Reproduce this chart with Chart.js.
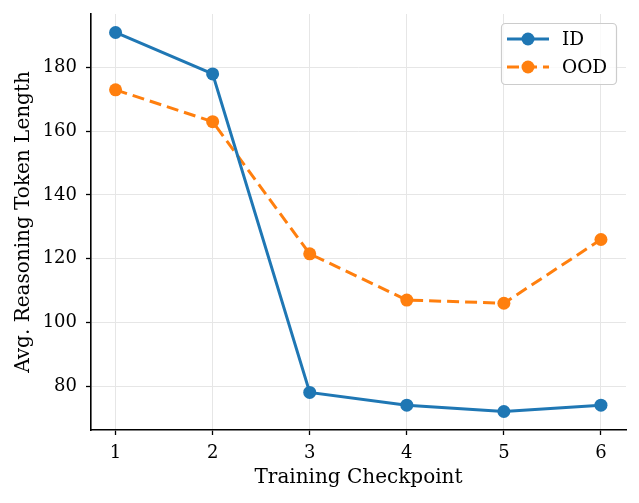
<!DOCTYPE html>
<html>
<head>
<meta charset="utf-8">
<script src="https://cdn.jsdelivr.net/npm/chart.js@4"></script>
<style>
  html, body { margin: 0; padding: 0; background: #fff; }
  #wrap { width: 639px; height: 503px; }
</style>
</head>
<body>
<div id="wrap"><canvas id="chart" width="639" height="503"></canvas></div>
<script>
(function () {
    const checkpoints = [1, 2, 3, 4, 5, 6];
    const idValues = [191, 178, 78, 74, 72, 74];
    const oodValues = [173, 163, 121.5, 107, 106, 126];
    const yTicks = [80, 100, 120, 140, 160, 180];
    const seriesNames = ['ID', 'OOD'];

    const FONT = "'DejaVu Serif', serif";
    const blue = '#1f77b4';
    const orange = '#ff7f0e';

    function toPoints(values) {
        return checkpoints.map((x, i) => ({x: x, y: values[i]}));
    }

    // matplotlib-style legend: line sample with marker, inside a rounded frame
    const lineLegend = {
        id: 'lineLegend',
        afterDraw(chart) {
            const c = chart.ctx;
            const box = {x: 501, y: 23, w: 115, h: 61};
            c.save();
            c.fillStyle = 'rgba(255,255,255,0.8)';
            c.strokeStyle = '#cccccc';
            c.lineWidth = 1.2;
            c.beginPath();
            c.roundRect(box.x + 0.5, box.y + 0.5, box.w, box.h, 4);
            c.fill();
            c.stroke();
            chart.data.datasets.forEach(function (ds, i) {
                const cy = box.y + 16 + i * 28;
                c.strokeStyle = ds.borderColor;
                c.lineWidth = ds.borderWidth;
                c.setLineDash(ds.borderDash || []);
                c.beginPath();
                c.moveTo(box.x + 6, cy);
                c.lineTo(box.x + 48, cy);
                c.stroke();
                c.setLineDash([]);
                c.fillStyle = ds.backgroundColor;
                c.beginPath();
                c.arc(box.x + 27, cy, ds.pointRadius, 0, Math.PI * 2);
                c.fill();
                c.fillStyle = '#000';
                c.font = '18.5px ' + FONT;
                c.textBaseline = 'middle';
                c.fillText(ds.label, box.x + 61, cy + 1);
            });
            c.restore();
        }
    };

    const chart = new Chart(document.getElementById('chart'), {
        type: 'line',
        data: {
            datasets: [
                {
                    label: seriesNames[0],
                    data: toPoints(idValues),
                    borderColor: blue,
                    backgroundColor: blue,
                    borderWidth: 3,
                    pointRadius: 6.5,
                    pointBorderWidth: 0,
                    tension: 0,
                },
                {
                    label: seriesNames[1],
                    data: toPoints(oodValues),
                    borderColor: orange,
                    backgroundColor: orange,
                    borderWidth: 3,
                    borderDash: [12, 6],
                    pointRadius: 6.5,
                    pointBorderWidth: 0,
                    tension: 0,
                },
            ],
        },
        options: {
            responsive: false,
            animation: false,
            layout: {padding: {left: 0, right: 13, top: 14, bottom: 0}},
            plugins: {
                legend: {display: false},
                tooltip: {enabled: false},
            },
            scales: {
                x: {
                    type: 'linear',
                    min: 0.747,
                    max: 6.258,
                    afterBuildTicks: (scale) => {
                        scale.ticks = checkpoints.map(v => ({value: v}));
                    },
                    afterFit: (scale) => {
                        scale.height = 73;
                        scale.paddingLeft = 0;
                        scale.paddingRight = 0;
                    },
                    border: {color: '#000', width: 1.6},
                    grid: {
                        color: '#e6e6e6',
                        lineWidth: 1,
                        tickColor: '#000',
                        tickLength: 5,
                        tickWidth: 1.3,
                    },
                    ticks: {
                        color: '#000',
                        font: {family: FONT, size: 18},
                        padding: 8,
                        maxRotation: 0,
                    },
                    title: {
                        display: true,
                        text: 'Training Checkpoint',
                        color: '#000',
                        font: {family: FONT, size: 20},
                        padding: {top: 2, bottom: 13},
                    },
                },
                y: {
                    min: 66.2,
                    max: 196.8,
                    afterBuildTicks: (scale) => {
                        scale.ticks = yTicks.map(v => ({value: v}));
                    },
                    afterFit: (scale) => {
                        scale.width = 91;
                        scale.paddingTop = 0;
                        scale.paddingBottom = 0;
                    },
                    border: {color: '#000', width: 1.6},
                    grid: {
                        color: '#e6e6e6',
                        lineWidth: 1,
                        tickColor: '#000',
                        tickLength: 5,
                        tickWidth: 1.3,
                    },
                    ticks: {
                        color: '#000',
                        font: {family: FONT, size: 18},
                        padding: 9,
                    },
                    title: {
                        display: true,
                        text: 'Avg. Reasoning Token Length',
                        color: '#000',
                        font: {family: FONT, size: 20},
                        padding: {top: 12, bottom: 0},
                    },
                },
            },
        },
        plugins: [lineLegend],
    });

    window.chart = chart;
})();
</script>
</body>
</html>
